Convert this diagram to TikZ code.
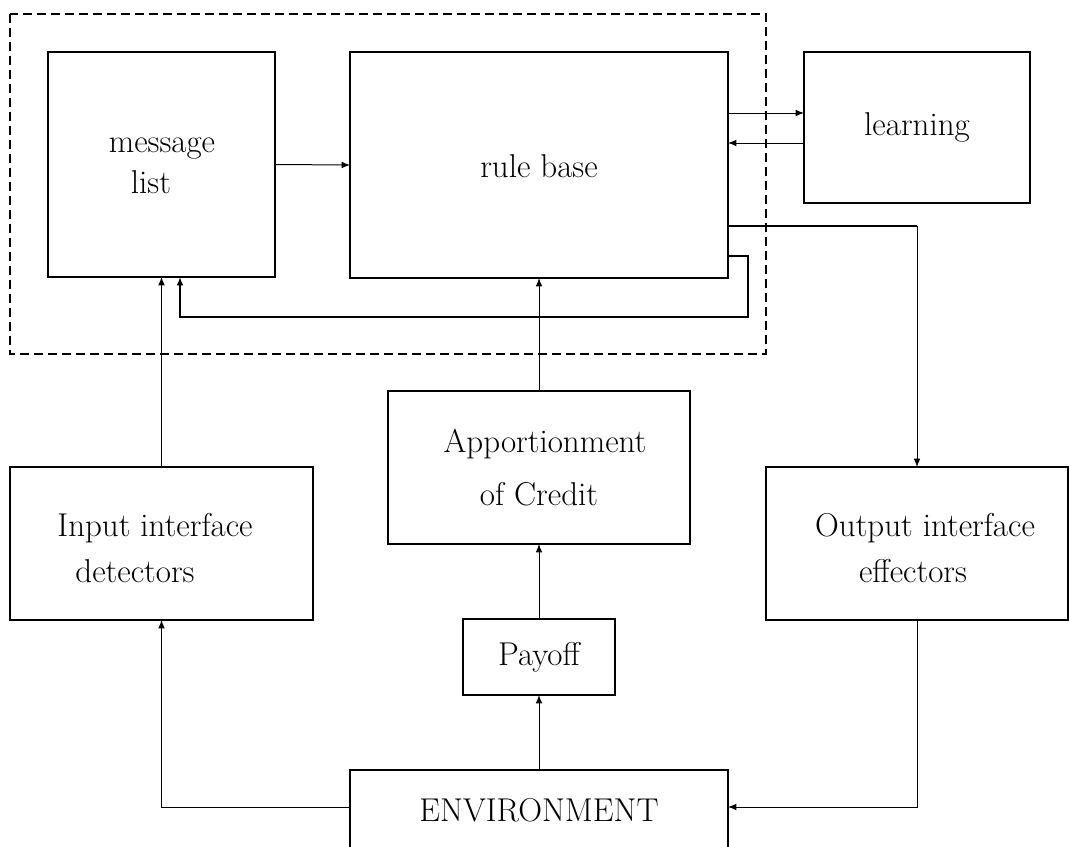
\documentclass[tikz,border=0pt]{standalone}
\usetikzlibrary{arrows.meta}
\begin{document}
\begin{tikzpicture}[x=0.6pt,y=-0.6pt,
  box/.style={draw,line width=0.8pt,inner sep=0pt,outer sep=0pt},
  heavy/.style={line width=1.3pt},
  tip/.style={-{Latex[length=5pt,width=4pt]}},
  arr/.style={line width=0.6pt,tip},
  fb/.style={line width=1.3pt,tip},
  lbl/.style={anchor=base,inner sep=0pt,font=\fontsize{19.8}{24}\selectfont},
  frame/.style={line width=0.9pt,dash pattern=on 5.4pt off 3pt}]
\clip (0,0) rectangle (1069,846);

% dashed frame round the classifier core
\draw[frame] (10,14) rectangle (766,354);

% blocks
\node[box,minimum width=136.2pt,minimum height=135pt] (ml) at (161.5,164.5) {};
\node[box,minimum width=226.8pt,minimum height=135.6pt] (rb) at (539,165) {};
\node[box,minimum width=135.6pt,minimum height=90.6pt] (learn) at (917,127.5) {};
\node[box,minimum width=181.8pt,minimum height=91.8pt] (inp) at (161.5,543.5) {};
\node[box,minimum width=181.2pt,minimum height=91.8pt] (app) at (539,467.5) {};
\node[box,minimum width=91.2pt,minimum height=45.6pt] (pay) at (539,657) {};
\node[box,minimum width=226.8pt,minimum height=66pt] (env) at (539,825) {};
\node[box,minimum width=181.2pt,minimum height=91.8pt] (out) at (917,543.5) {};

% heavier right and bottom edges
\foreach \b in {ml,rb,learn,inp,app,pay,env,out}
  \draw[heavy] (\b.north east) -- (\b.south east) -- (\b.south west);

% labels
\node[lbl] (t1) at (162,152) {message};
\node[lbl] (t2) at (151,193) {list};
\node[lbl] (t3) at (539,177) {rule base};
\node[lbl] (t4) at (917,135) {learning};
\node[lbl] (t5) at (545,452) {Apportionment};
\node[lbl] (t6) at (539,505) {of Credit};
\node[lbl] (t7) at (155,536) {Input interface};
\node[lbl] (t8) at (135,582) {detectors};
\node[lbl] (t9) at (925,536) {Output interface};
\node[lbl] (t10) at (913,582) {effectors};
\node[lbl] (t11) at (539,665) {Payoff};
\node[lbl] (t12) at (539,821) {ENVIRONMENT};

% connectors
\draw[arr] (ml.east) -- (rb.west);
\draw[arr] (rb.east |- 0,113) -- (learn.west |- 0,113);
\draw[arr] (learn.west |- 0,143) -- (rb.east |- 0,143);
\draw[heavy] (rb.east |- 0,226) -- (out.north |- 0,226);
\draw[arr] (out.north |- 0,226) -- (out.north);
\draw[fb] (rb.east |- 0,256) -- (748,256) -- (748,317) -- (180,317) -- (ml.south -| 180,0);
\draw[arr] (inp.north) -- (inp.north |- ml.south);
\draw[arr] (app.north) -- (rb.south);
\draw[arr] (pay.north) -- (app.south);
\draw[arr] (env.north) -- (pay.south);
\draw[arr] (env.west |- 0,807) -- (inp.south |- 0,807) -- (inp.south);
\draw[arr] (out.south) -- (out.south |- 0,807) -- (env.east |- 0,807);
\end{tikzpicture}
\end{document}
